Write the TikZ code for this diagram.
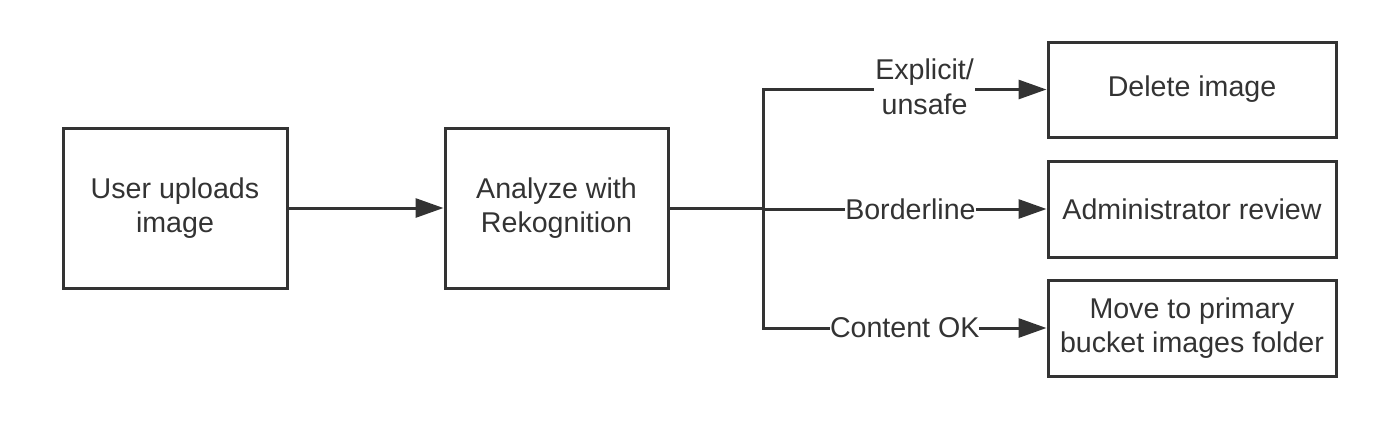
\documentclass[tikz,border=0pt]{standalone}
\usepackage{fontspec}
\setmainfont{Liberation Sans}
\usetikzlibrary{arrows.meta}
\definecolor{ink}{HTML}{333333}
\tikzset{
  box/.style={draw=ink, line width=3pt, inner sep=0pt, align=center, text=ink,
    font=\fontsize{28.6}{34}\selectfont},
  conn/.style={draw=ink, line width=3pt},
  arr/.style={conn, -{Triangle[length=28pt,width=19pt]}},
  lab/.style={fill=white, inner sep=1pt, text=ink, align=center,
    font=\fontsize{28.6}{35}\selectfont},
}
\begin{document}
\begin{tikzpicture}[x=1pt,y=1pt]
\useasboundingbox (0,0) rectangle (1400,-440);
\node[box, minimum width=224pt, minimum height=160pt] (b1) at (175,-208) {User uploads\\image};
\node[box, minimum width=223pt, minimum height=160pt] (b2) at (556.5,-208) {Analyze with\\Rekognition};
\node[box, minimum width=288pt, minimum height=95pt] (b3) at (1192,-89.5) {Delete image};
\node[box, minimum width=288pt, minimum height=96pt] (b4) at (1192,-209) {Administrator review};
\node[box, minimum width=288pt, minimum height=96pt] (b5) at (1192,-328) {Move to primary\\bucket images folder};
\coordinate (j) at (763,-208);
\coordinate (t) at (763,-89.5);
\coordinate (m) at (763,-209);
\coordinate (bt) at (763,-328);
\draw[arr] (b1.east) -- (b2.west);
\draw[conn] (b2.east) -- (j);
\draw[conn, line cap=rect] (t) -- (bt);
\draw[arr] (t) -- node[lab, pos=0.57, yshift=3pt] {Explicit/\\unsafe} (b3.west);
\draw[arr] (m) -- node[lab, pos=0.52, inner sep=0pt] {Borderline} (b4.west);
\draw[arr] (bt) -- node[lab, pos=0.5, inner sep=0pt] {Content OK} (b5.west);
\end{tikzpicture}
\end{document}
